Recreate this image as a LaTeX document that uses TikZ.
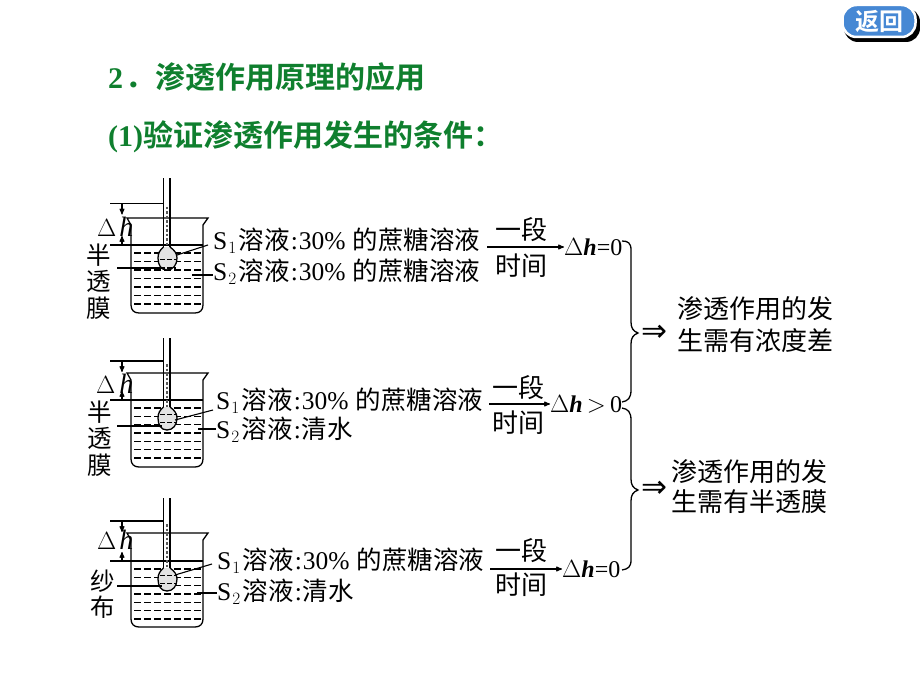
\documentclass[tikz,border=0pt]{standalone}
\usepackage{fontspec}
\setmainfont{Liberation Serif}
\newfontfamily\cjk{Noto Sans CJK SC}
\newfontfamily\cjkbold{Noto Sans CJK SC Bold}
\newfontfamily\symb{DejaVu Sans}
\usetikzlibrary{arrows,positioning}
\definecolor{titlegreen}{HTML}{0F7F2E}
\definecolor{btnblue}{HTML}{4688D4}
\newcommand{\solname}[1]{{\rmfamily S\kern1pt$_{#1}$\kern2pt}}
\newcommand{\conc}{{\rmfamily\kern1pt:\kern1pt 30\%\kern7pt}}
\tikzset{
    >=stealth',
    % text styles
    label/.style={
           anchor=west,
           inner sep=0pt,
           font=\cjk\fontsize{25.5}{27}\selectfont},
    sidelabel/.style={
           inner sep=0pt,
           font=\cjk\fontsize{24.5}{26}\selectfont},
    timelabel/.style={
           inner sep=0pt,
           font=\cjk\fontsize{26}{28}\selectfont},
    result/.style={
           anchor=west,
           inner sep=0pt,
           font=\fontsize{24}{26}\selectfont},
    deltah/.style={
           anchor=west,
           inner sep=0pt,
           font=\fontsize{28}{30}\selectfont},
    concl/.style={
           anchor=west,
           inner sep=0pt,
           font=\cjk\fontsize{26}{28}\selectfont},
    heading/.style={
           anchor=west,
           inner sep=0pt,
           text=titlegreen,
           font=\cjkbold\fontsize{30}{32}\selectfont},
    implies/.style={
           inner sep=0pt,
           font=\symb\fontsize{31}{33}\selectfont},
    glass/.style={line width=1.3pt},
    water/.style={line width=1.2pt, dash pattern=on 6.5pt off 3.5pt},
    thin line/.style={line width=1.1pt},
    pil/.style={->, line width=1.1pt}
}
\begin{document}
\begin{tikzpicture}[x=1pt,y=-1pt]
\useasboundingbox (0,0) rectangle (920,690);
% headings
\node[heading] (title) at (108,77) {{\rmfamily\bfseries 2}\kern2pt．渗透作用原理的应用};
\node[heading] (sub) at (108,137) {{\rmfamily\bfseries (1)}验证渗透作用发生的条件：};
% return button
\node[fill=black, rounded corners=14pt, minimum width=76pt, minimum height=34pt, inner sep=0pt] (btnshadow) at (882,25) {};
\node[fill=btnblue, draw=white, line width=2.5pt, rounded corners=14pt, minimum width=73pt, minimum height=32pt, inner sep=0pt, text=white, font=\cjkbold\fontsize{24}{26}\selectfont] (btn) at (879,21) {返回};
% beakers: tube top, height line, rim, level, bulb top, first dash, dash step, bottom
\foreach \tubetop/\hgt/\rim/\lev/\bt/\fd/\ds/\rb in {178/203.5/218/245/247/253/8.5/313, 338/361/373/400/407/408/8.33/467, 498/521/533/561/568/569/8.33/627}{
  \draw[glass] (127,\rim) -- (131,\rim+7) -- (131,\rb-8) .. controls (131,\rb-3) and (134,\rb) .. (139,\rb)
     -- (195,\rb) .. controls (200,\rb) and (203,\rb-3) .. (203,\rb-8) -- (203,\rim+7) -- (208,\rim) -- cycle;
  \draw[thin line] (163.5,\tubetop) -- (163.5,\bt);
  \draw[thin line] (170,\tubetop) -- (170,\bt);
  \draw[thin line] (110,\hgt) -- (163.5,\hgt);
  \draw[thin line] (110,\lev) -- (203,\lev);
  \foreach \k in {0,...,6}{
    \draw[water] (134,\fd+\ds*\k) -- (201,\fd+\ds*\k);
  }
  % liquid in the tube
  \draw[line width=2.6pt, gray!70!black, dash pattern=on 2.5pt off 2pt] (167,\hgt+3) -- (167,\bt);
  % bulb
  \draw[line width=1.3pt, fill=gray!22] (163.5,\bt) .. controls (160,\bt+3) and (158,\bt+6) .. (158,\bt+11)
     .. controls (158,\bt+18) and (161,\bt+23) .. (167,\bt+23)
     .. controls (173,\bt+23) and (177,\bt+18) .. (177,\bt+11)
     .. controls (177,\bt+6) and (174,\bt+3) .. (170,\bt);
  \foreach \k in {1,2}{
    \draw[line width=1.2pt, dash pattern=on 5pt off 2pt] (160,\fd+\ds*\k-2) -- (176,\fd+\ds*\k-2);
  }
  % delta h arrows
  \draw[pil] (122,\hgt) -- (122,\hgt+11);
  \draw[pil] (122,\lev) -- (122,\lev-9);
}
% delta h marks
\node[deltah] (dha) at (97,227) {$\Delta$\kern3pt\textit{h}};
\node[deltah] (dhb) at (96,384) {$\Delta$\kern4pt\textit{h}};
\node[deltah] (dhc) at (97,540) {$\Delta$\kern3pt\textit{h}};
% side words
\node[sidelabel] (ban1) at (99,255) {半};
\node[sidelabel, below=4pt of ban1] (tou1) {透};
\node[sidelabel, below=4pt of tou1] (mo1) {膜};
\node[sidelabel] (ban2) at (100,412) {半};
\node[sidelabel, below=4pt of ban2] (tou2) {透};
\node[sidelabel, below=4pt of tou2] (mo2) {膜};
\node[sidelabel] (sha) at (103,581) {纱};
\node[sidelabel, below=3pt of sha] (bu) {布};
% solution labels
\node[label] (s1a) at (213,241) {\solname{1}溶液\conc 的蔗糖溶液};
\node[label] (s2a) at (213,272) {\solname{2}溶液\conc 的蔗糖溶液};
\node[label] (s1b) at (216,401) {\solname{1}溶液\conc 的蔗糖溶液};
\node[label] (s2b) at (216,430) {\solname{2}溶液{\rmfamily\kern1pt:\kern1pt}清水};
\node[label] (s1c) at (217,561) {\solname{1}溶液\conc 的蔗糖溶液};
\node[label] (s2c) at (217,592) {\solname{2}溶液{\rmfamily\kern1pt:\kern1pt}清水};
% leader lines
\coordinate (mema) at (117,268);
\coordinate (memb) at (117,426);
\coordinate (memc) at (117,586);
\coordinate (mema2) at (162,268);
\coordinate (memb2) at (162,426);
\coordinate (memc2) at (162,586);
\coordinate (ina) at (177,255);
\coordinate (inb) at (175,420);
\coordinate (inc) at (175,575);
\coordinate (ina2) at (208,245);
\coordinate (inb2) at (213,410);
\coordinate (inc2) at (212,564);
\coordinate (outa) at (192,275);
\coordinate (outb) at (198,429);
\coordinate (outc) at (197,593);
\draw[thin line] (mema) -- (mema2);
\draw[thin line] (memb) -- (memb2);
\draw[thin line] (memc) -- (memc2);
\draw[thin line] (ina) -- (ina2);
\draw[thin line] (inb) -- (inb2);
\draw[thin line] (inc) -- (inc2);
\draw[thin line] (outa) -- (s2a.west |- outa);
\draw[thin line] (outb) -- (s2b.west |- outb);
\draw[thin line] (outc) -- (s2c.west |- outc);
% results
\node[result] (ra) at (564,247) {$\Delta$\textit{\textbf{h}}=0};
\node[result] (rb) at (550,404) {$\Delta$\textit{\textbf{h}}$\,>\,$0};
\node[result] (rc) at (562,569) {$\Delta$\textit{\textbf{h}}=0};
\coordinate (fa) at (487,247);
\coordinate (fb) at (489,404);
\coordinate (fc) at (490,569);
\draw[pil] (fa) -- (ra.west);
\draw[pil] (fb) -- (rb.west);
\draw[pil] (fc) -- (rc.west);
\node[timelabel] (ya) at (521,230) {一段};
\node[timelabel] (sa) at (521,266) {时间};
\node[timelabel] (yb) at (518,388) {一段};
\node[timelabel] (sb) at (518,423) {时间};
\node[timelabel] (yc) at (521,551) {一段};
\node[timelabel] (sc) at (521,585) {时间};
% braces
\draw[glass] (622,241) .. controls (628,241) and (631,243) .. (631,250) -- (631,322)
   .. controls (631,328) and (633,331) .. (638,333) .. controls (633,335) and (631,338) .. (631,344)
   -- (631,390) .. controls (631,398) and (628,401) .. (622,402);
\draw[glass] (622,408) .. controls (628,409) and (631,412) .. (631,420) -- (631,479)
   .. controls (631,485) and (633,488) .. (638,490) .. controls (633,492) and (631,495) .. (631,501)
   -- (631,560) .. controls (631,567) and (628,569) .. (622,570);
% conclusions
\node[implies] (ia) at (654,333) {⇒};
\node[implies] (ib) at (654,489) {⇒};
\node[concl] (c1a) at (677,309) {渗透作用的发};
\node[concl] (c1b) at (677,341) {生需有浓度差};
\node[concl] (c2a) at (671,472) {渗透作用的发};
\node[concl] (c2b) at (671,502) {生需有半透膜};
\end{tikzpicture}
\end{document}
